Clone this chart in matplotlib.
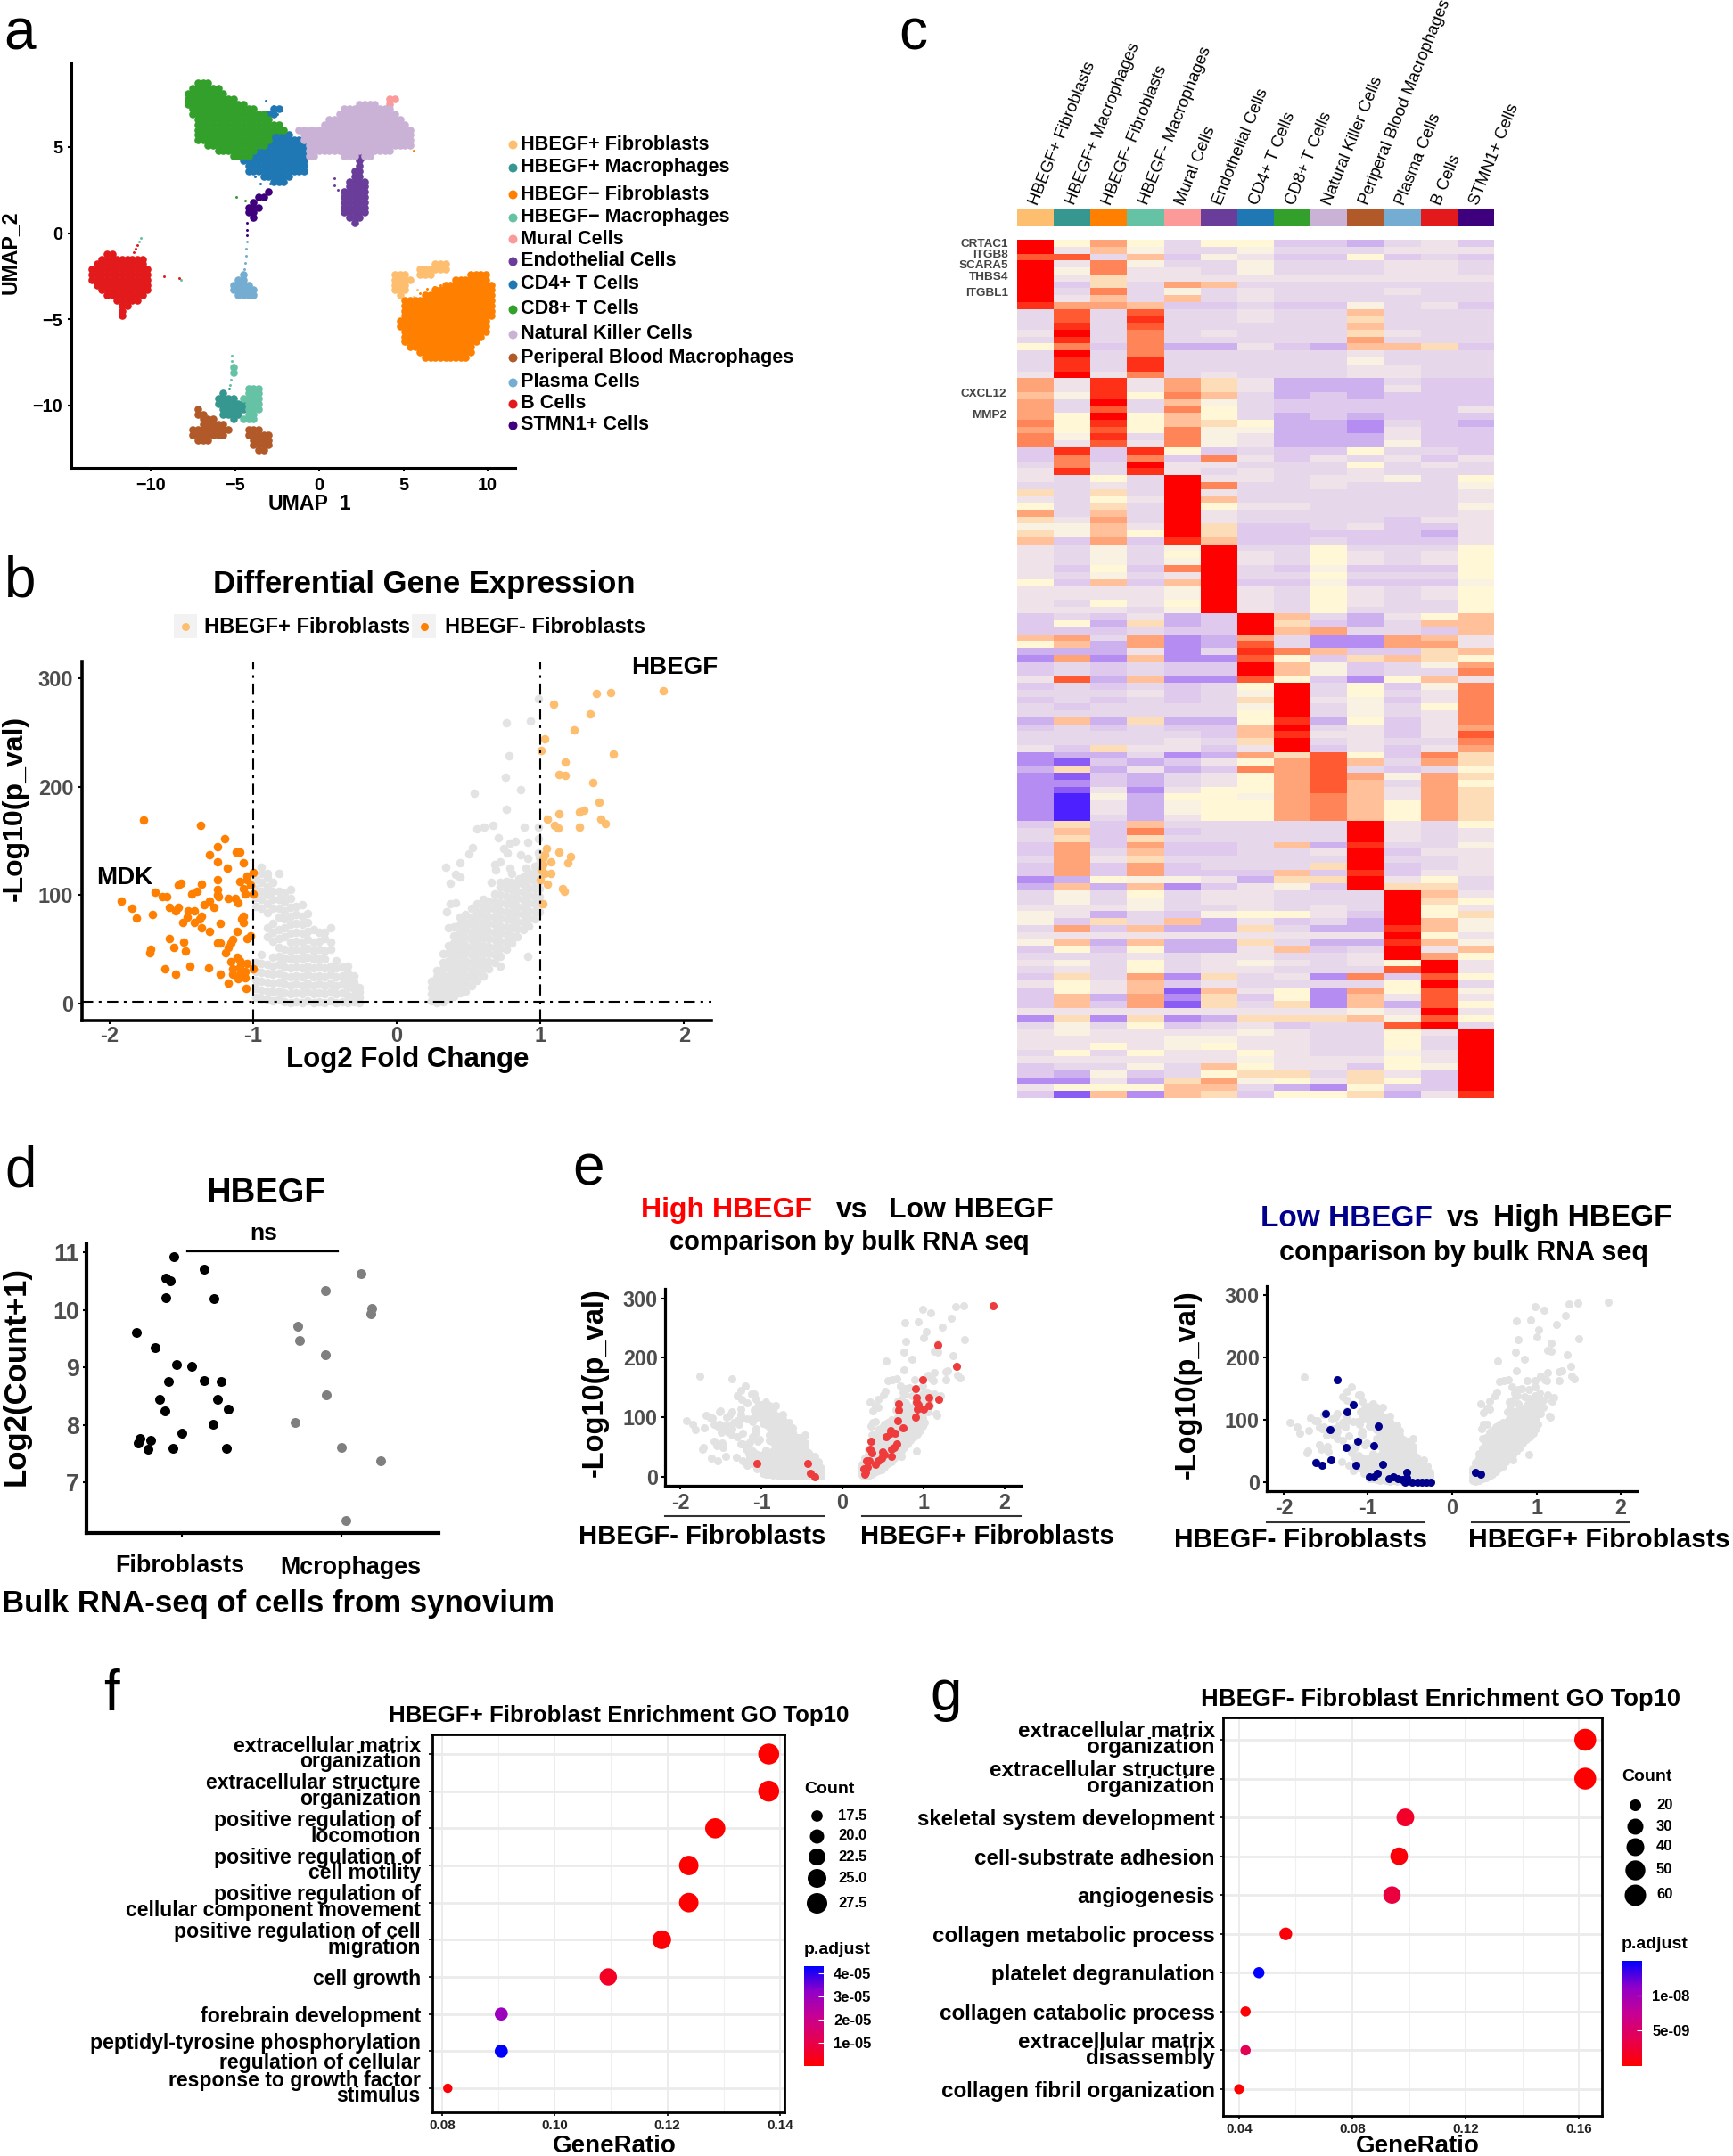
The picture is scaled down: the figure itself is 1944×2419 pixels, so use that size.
import numpy as np
import matplotlib
matplotlib.use("Agg")
import matplotlib.pyplot as plt
from matplotlib.colors import ListedColormap, LinearSegmentedColormap, Normalize
from matplotlib.cm import ScalarMappable

W, H = 1944, 2419
plt.rcParams['font.family'] = ['Liberation Sans', 'DejaVu Sans']
plt.rcParams['font.weight'] = 'bold'

# ---------- shared cluster info ----------
cell_names = ["HBEGF+ Fibroblasts", "HBEGF+ Macrophages", "HBEGF\u2212 Fibroblasts", "HBEGF\u2212 Macrophages",
              "Mural Cells", "Endothelial Cells", "CD4+ T Cells", "CD8+ T Cells", "Natural Killer Cells",
              "Periperal Blood Macrophages", "Plasma Cells", "B Cells", "STMN1+ Cells"]
heat_names = ["HBEGF+ Fibroblasts", "HBEGF+ Macrophages", "HBEGF- Fibroblasts", "HBEGF- Macrophages",
              "Mural Cells", "Endothelial Cells", "CD4+ T Cells", "CD8+ T Cells", "Natural Killer Cells",
              "Periperal Blood Macrophages", "Plasma Cells", "B Cells", "STMN1+ Cells"]
cell_colors = ["#fdbf6f", "#35978f", "#ff7f00", "#66c2a5", "#fb9a99", "#6a3d9a", "#1f78b4", "#33a02c",
               "#cab2d6", "#b15928", "#74add1", "#e31a1c", "#3f007d"]
cell_chars = "HMFmuE48NPLBS"

# ---------- panel a: UMAP read as a coarse map (0.3 units per char) ----------
umap_rows = [
    "......................888",
    ".....................888888",
    "....................88888888",
    "....................8888888888..............................uu",
    "....................888888888888......................NNNN..u",
    ".....................8888888888888...44............NNNNNNNNNN",
    ".....................88888888888888844............NNNNNNNNNNNN",
    "......................888888888888888...........NNNNNNNNNNNNNNN",
    "......................88888888888888888........NNNNNNNNNNNNNNNNN",
    "......................888888888888888888..NNNNNNNNNNNNNNNNNNNNNNN",
    "......................8888888888888884444..NNNNNNNNNNNNNNNNNNNNNN",
    "......................888888888888888444444NNNNNNNNNNNNNNNNNNNNNN",
    "........................88888888888844444444NNNNNNNNNNNNNNNNNNNNN",
    "..........................888888884444444444NNNNNNNNNNNNNNNNN",
    ".............................888844444444444NN.....NNNENN",
    "...............................4444444444444..........E",
    "................................444444444444..........E",
    "................................444444444444.........EE",
    "...................................444444............EE",
    ".....................................444............EEEE",
    "....................................................EEEE",
    "....................................S..............EEEEE",
    "..................................SS...............EEEEE",
    ".................................S.................EEEEE",
    "................................SSS................EEEEE",
    "................................SS.................EEEEE",
    ".................................S..................EEE",
    ".....................................................E",
    "", "", "", "", "",
    "....BB",
    "...BBBBBBBBB",
    "..BBBBBBBBBB.........................................................HHH",
    ".BBBBBBBBBBBB.....................................................HHHHHH",
    ".BBBBBBBBBBBB..................L.............................HHH..HHH.......FFFF",
    ".BBBBBBBBBBBB.................LL.............................HHHH........FFFFFFF",
    "..BBBBBBBBBBB................LLLL............................HHH.......FFFFFFFFFF",
    "...BBBBBBBBBB................LLLLL...........................HHH.....FFFFFFFFFFFF",
    "....BBBBBBBB..................LLLL............................H....FFFFFFFFFFFFFF",
    "......BBBBB....................................................FFFFFFFFFFFFFFFFFF",
    ".......BB......................................................FFFFFFFFFFFFFFFFFF",
    ".......B.......................................................FFFFFFFFFFFFFFFFFF",
    ".......B.......................................................FFFFFFFFFFFFFFFFFF",
    "..............................................................FFFFFFFFFFFFFFFFFF",
    "..............................................................FFFFFFFFFFFFFFFFFF",
    "...............................................................FFFFFFFFFFFFFFFFF",
    "...............................................................FFFFFFFFFFFFFFFF",
    "...............................................................FFFFFFFFFFFFFFF",
    "................................................................FFFFFFFFFFFFF",
    "..................................................................FFFFFFFFFFF",
    "...................................................................FFFFFFFFF",
    "",
    ".............................m",
    ".............................m",
    "", "",
    "................................mmm",
    "...........................M....mmm",
    "..........................MMMM.mmmm",
    "..........................MMMMMMmmm",
    "......................P....MMMMMmmm",
    "......................PP...MMMM.mm",
    ".......................PPP...M.mmm",
    ".......................PPPPP",
    ".....................PPPPPPPP...PPP",
    ".....................PPPPPPP....PPPPP",
    "......................PPP........PPPP",
    ".................................PPPP",
    "..................................PP",
]
umap_sparse = [(-4.3, 0.6, 'S'), (-4.3, 0.2, 'S'), (-4.3, -0.1, 'S'), (-4.3, -0.5, 'L'), (-4.35, -0.9, 'L'),
               (-4.35, -1.3, 'L'), (-4.4, -1.7, 'L'), (-4.45, -2.1, 'L'), (-10.6, -0.3, 'm'), (-10.7, -0.5, 'm'),
               (-10.8, -0.7, 'B'), (-10.9, -0.9, 'B'), (-11.0, -1.1, 'B'), (-8.3, -2.6, 'B'), (-8.2, -2.7, 'm'),
               (-9.2, -2.5, 'B'), (-4.9, 2.1, '8'), (-4.4, 1.9, '8'), (-2.9, 7.0, '4'), (-2.7, 7.4, '4'),
               (-2.4, 7.3, '4'), (-2.2, 7.1, '4'), (-3.2, 7.7, '4'), (-2.5, 6.9, '4'), (-3.0, 6.6, '4'),
               (-2.6, 7.2, '4'), (-2.9, 2.9, '4'), (-3.5, 2.9, '4'), (-3.8, 3.3, '4'), (0.9, 3.2, 'E'),
               (0.9, 2.8, 'E'), (1.1, 2.5, 'E'), (2.6, 4.3, 'E'), (3.1, 4.6, 'E'), (6.0, -3.5, 'F'),
               (6.4, -3.2, 'F'), (6.8, -3.1, 'F'), (7.2, -3.0, 'F'), (5.8, -3.3, 'H'), (5.6, -3.7, 'H'),
               (6.2, -3.7, 'F'), (5.5, -3.9, 'H'), (5.6, 4.8, 'F'), (-5.2, -7.1, 'm'), (-5.2, -7.4, 'm'),
               (-5.25, -8.5, 'm'), (-5.3, -8.8, 'm'), (-5.35, -9.0, 'M')]

# ---------- panel b / e: volcano points ----------
pos_pts = [(1.855, 288), (1.49, 287), (1.39, 286), (1.09, 276), (1.345, 267), (1.235, 252), (1.03, 244), (1.005, 233),
           (1.505, 230), (1.17, 223), (1.13, 211), (1.175, 210), (1.365, 204), (1.41, 186), (1.27, 177), (1.30, 178),
           (1.13, 175), (1.05, 170), (1.42, 170), (1.45, 166), (1.10, 164), (1.12, 162), (1.27, 163), (1.04, 143),
           (1.13, 140), (1.03, 137), (1.21, 136), (1.015, 134), (1.075, 131), (1.19, 130), (1.015, 128), (1.005, 123),
           (1.075, 120), (1.03, 120), (1.0, 114), (1.05, 110), (1.155, 106), (1.165, 104), (1.015, 92)]
neg_pts = [(-1.76, 169), (-1.365, 164), (-1.20, 152), (-1.25, 145), (-1.30, 137), (-1.115, 140), (-1.09, 140),
           (-1.245, 131), (-1.07, 130), (-1.18, 125), (-1.0, 121), (-1.04, 118), (-1.25, 114), (-1.09, 113),
           (-1.04, 114), (-1.02, 109), (-1.50, 111), (-1.52, 109), (-1.36, 110), (-1.07, 106), (-1.25, 105),
           (-1.39, 104), (-1.43, 101), (-1.68, 103), (-1.63, 99), (-1.60, 99), (-1.25, 100), (-1.24, 99), (-1.0, 101),
           (-1.055, 101), (-1.17, 97), (-1.105, 93), (-1.12, 97), (-1.30, 95), (-1.34, 91), (-1.27, 89), (-1.92, 95),
           (-1.84, 88), (-1.81, 79), (-1.70, 82), (-1.58, 89), (-1.54, 86), (-1.52, 89), (-1.45, 86), (-1.41, 86),
           (-1.36, 81), (-1.46, 80), (-1.49, 75), (-1.41, 75), (-1.37, 78), (-1.36, 70), (-1.30, 67), (-1.23, 74),
           (-1.07, 81), (-1.08, 78), (-1.065, 75), (-1.11, 67), (-1.02, 63), (-1.04, 60), (-1.58, 60), (-1.48, 57),
           (-1.55, 52), (-1.47, 49), (-1.71, 50), (-1.72, 47), (-1.25, 56), (-1.23, 56), (-1.14, 59), (-1.155, 56),
           (-1.17, 52), (-1.19, 47), (-1.11, 43), (-1.155, 39), (-1.09, 40), (-1.04, 37), (-1.0, 32), (-1.09, 34),
           (-1.14, 32), (-1.055, 30), (-1.44, 35), (-1.615, 32), (-1.54, 27), (-1.31, 33), (-1.23, 27), (-1.14, 27),
           (-1.105, 23), (-1.055, 24), (-1.17, 19), (-1.05, 14), (-1.09, 27)]
gray_top = [(0.985, 281), (0.765, 259), (0.93, 260), (0.78, 228), (0.755, 209), (0.86, 197), (0.54, 194), (0.76, 179),
            (0.985, 163), (0.89, 163), (0.56, 161), (0.61, 163), (0.67, 164), (0.985, 152), (0.71, 153), (0.785, 148),
            (0.825, 150), (0.91, 149), (0.53, 144), (0.505, 138), (0.745, 143), (0.77, 139), (0.86, 137), (0.91, 134),
            (0.985, 139), (0.44, 130), (0.34, 126), (0.68, 128), (0.72, 131), (0.785, 125), (0.90, 125), (0.985, 128),
            (0.41, 119), (0.375, 111), (0.44, 117), (0.69, 123), (0.80, 120), (0.85, 115), (0.93, 117), (0.655, 112),
            (0.72, 112), (0.785, 112), (0.91, 44), (0.72, 35), (0.35, 85), (0.375, 92), (0.41, 93)]
gray_right_cols = {
    0.24: [3, 9, 15, 21],
    0.28: [1, 7, 13, 19, 25, 31],
    0.32: [2, 8, 14, 20, 26, 32, 38, 46],
    0.36: [5, 12, 19, 26, 33, 40, 47, 54, 70],
    0.40: [7, 14, 21, 28, 35, 42, 49, 56, 63, 71],
    0.44: [10, 17, 24, 31, 38, 45, 52, 59, 66, 73, 80],
    0.48: [12, 19, 26, 33, 40, 47, 54, 61, 68, 75, 82],
    0.52: [17, 24, 31, 38, 45, 52, 59, 66, 73, 80, 88],
    0.56: [22, 29, 36, 43, 50, 57, 64, 71, 78, 85, 92],
    0.60: [26, 33, 40, 47, 54, 61, 68, 75, 82, 89, 96],
    0.64: [32, 39, 46, 53, 60, 67, 74, 81, 88, 95],
    0.68: [38, 45, 52, 59, 66, 73, 80, 87, 94, 101],
    0.72: [44, 51, 58, 65, 72, 79, 86, 93, 100, 108],
    0.76: [50, 57, 64, 71, 78, 85, 92, 99, 106, 113],
    0.80: [56, 63, 70, 77, 84, 91, 98, 105, 112],
    0.84: [62, 69, 76, 83, 90, 97, 104, 111],
    0.88: [68, 75, 82, 89, 96, 103, 110, 117],
    0.92: [72, 79, 86, 93, 100, 107, 114, 121],
    0.96: [78, 85, 92, 99, 106, 113, 120, 127],
    0.99: [85, 92, 99, 106, 113, 120, 127, 135],
}
gray_left_cols = {
    -0.98: [6, 14, 22, 30, 38, 90, 98, 106, 114],
    -0.94: [5, 13, 21, 29, 37, 45, 88, 96, 104, 112, 120, 126],
    -0.90: [4, 12, 20, 28, 36, 62, 70, 84, 92, 100, 108, 116, 120],
    -0.86: [3, 11, 19, 27, 35, 43, 58, 66, 74, 88, 96, 104, 112],
    -0.82: [4, 12, 20, 28, 36, 44, 52, 60, 68, 80, 88, 96, 104, 120],
    -0.78: [2, 10, 18, 26, 34, 42, 50, 62, 70, 78, 86, 94, 102],
    -0.74: [1, 9, 17, 25, 33, 41, 49, 57, 65, 73, 81, 89, 97, 105],
    -0.70: [2, 10, 18, 26, 34, 42, 50, 58, 66, 74, 82, 90],
    -0.66: [1, 9, 17, 25, 33, 41, 49, 57, 65, 73, 81, 91],
    -0.62: [3, 11, 19, 27, 35, 43, 51, 59, 67, 75, 83],
    -0.58: [1, 9, 17, 25, 33, 41, 49, 57, 68],
    -0.54: [2, 10, 18, 26, 34, 42, 50, 58, 66],
    -0.50: [1, 9, 17, 25, 33, 41, 49, 60, 66],
    -0.46: [3, 11, 19, 27, 35, 50, 57, 70],
    -0.42: [1, 9, 17, 25, 33, 40],
    -0.38: [2, 10, 18, 26, 34],
    -0.34: [1, 8, 15, 22, 29, 35],
    -0.30: [2, 8, 14, 20, 26],
    -0.26: [1, 6, 11, 15],
}
high_pts = [(1.86, 288), (1.17, 222), (1.41, 186), (0.985, 163), (0.905, 149), (0.91, 134), (1.065, 133), (1.185, 130),
            (0.695, 123), (0.91, 126), (0.935, 121), (1.07, 120), (0.925, 114), (1.0, 114), (0.69, 112), (0.905, 100),
            (0.68, 94), (0.745, 82), (0.59, 78), (0.65, 73), (0.595, 73), (0.54, 67), (0.35, 60), (0.675, 55),
            (0.64, 49), (0.6, 46), (0.34, 46), (0.36, 41), (0.49, 42), (0.515, 38), (0.6, 35), (0.485, 31), (0.44, 27),
            (0.295, 27), (0.33, 27), (0.405, 21), (0.26, 13), (0.305, 16), (0.285, 8), (0.27, 5), (-1.05, 23),
            (-0.43, 23), (-0.39, 6), (-0.345, 0)]
low_pts = [(-1.366, 164), (-1.176, 124), (-1.5, 110), (-1.25, 113), (-0.877, 90), (-1.445, 84), (-1.12, 66), (-0.93, 59),
           (-1.255, 55), (-1.617, 31), (-1.546, 27), (-1.44, 35), (-1.145, 27), (-0.83, 28), (-0.987, 8), (-0.934, 8),
           (-0.89, 14), (-0.75, 5), (-0.70, 9), (-0.648, 6), (-0.59, 4), (-0.537, 15), (-0.56, 0), (-0.537, 7),
           (-0.48, 0), (-0.414, 0), (-0.36, 0), (-0.31, 0), (-0.25, 0), (0.273, 15), (0.335, 12)]

# ---------- panel c: heatmap, one hex level per cell ----------
heat_rows = [
    "f8b8588443564", "f6a7557555666", "dd5a476448454", "f6c7557555665", "f7c6657555665", "f696666666666",
    "f495ba5555555", "f5c5756555655", "f6a5a56555555", "ebba445447564", "5d5d55655a555", "5d5e556559555",
    "5e5d55555a555", "6f5c565559655", "5e5c55555b555", "8c4c33643aa94", "5f5c555556555", "5e5e555557555",
    "5e5e555556655", "6f6c565556655", "b6e6b96333544", "b6e6b96333644", "a7e8ca5343444", "b5f5a75444444",
    "b5d5c85444446", "b8f8a85343444", "c8e8a98332543", "b8d8c77332644", "c7e5c76333644", "c6d6c76333744",
    "4e4e845448554", "4c4c4c6465646", "5c5f665558565", "6e5e656556555", "6585f66566758", "5565fc5565557",
    "9595f65555556", "6586fa5555556", "8595f86655557", "b5a5f65555556", "96b5f65555466", "77a6f94456446",
    "97a8f94444436", "a4b4ea4454446", "65757f5585558", "65758f6586568", "65757f6586568", "6484cf5474448",
    "65756f5585558", "84a4af4474447", "66667f6586568", "66667f6586568", "65868f6586558", "66657f6585558",
    "454634fa5368a", "483934f9435aa", "444544fab554a", "ab5b23b522ba6", "8a3b23d522bb6", "333625eca449a",
    "2b2a22d849a98", "454544fa7457b", "454544fa7455c", "6d3a22d8428a6", "4545458f5847c", "5556457f5856c",
    "4545459f6746c", "5455557f5758c", "5555558f5756c", "3a39338e3846c", "454544af5646b", "555554ae6646d",
    "5555659f5655c", "6496646f4646b", "233523b9d84c9", "2143468bda5b9", "393634cbd5458", "2143568bdb7b9",
    "2243568bda5b8", "2162688bda6b9", "2073887bca6b9", "2063788bca8b9", "2063788bca8b9", "2053688bca8b9",
    "494a55555f658", "5a4c45555f656", "594955555f656", "4b4b445a3e557", "4b5a44556f466", "5b6955555f556",
    "4b4b45559f456", "4b4b444a4e466", "238776399f685", "3a3a24674f995", "5758566555fa6", "5757566555f98",
    "6667556565f86", "7635478864f89", "7495a36453fa7", "5b4a339533ea7", "6666666666f86", "7a3a339533ea7",
    "4848336a45f6a", "5556566556fb8", "67585676568f6", "5658566555df6", "495b29562c4d8", "686a4655558f5",
    "486a1a682b8d7", "4a3b29482a6d6", "4a4b19592a3d8", "66666666676f6", "292923999a7d8", "5758456455df5",
    "676666765586f", "666677665585f", "668678665585f", "585866865576f", "666666766686f", "45575a866487f",
    "437458995964f", "22639b786984f", "6888aa532844f", "41a2a9488936e",
]
heat_levels = ["#4c20ff", "#8a5cf5", "#b48cf2", "#cdb0ee", "#dfc9ec", "#e7d7ea", "#efe2e8", "#f9f2e2",
               "#fff7d6", "#fddcb8", "#ffc09a", "#ffa478", "#ff8558", "#ff5a32", "#ff3018", "#ff0000"]
heat_genes = ["CRTAC1", "ITGB8", "SCARA5", "THBS4", "ITGBL1", "CXCL12", "MMP2"]
heat_gene_y = [274, 286, 298, 311, 329, 442, 466]

# ---------- panel d ----------
fib_x = [0.948, 1.139, 0.897, 0.925, 0.902, 1.2, 0.715, 0.834, 0.968, 1.059, 0.918, 1.139, 1.246, 0.859, 1.223, 0.893,
         1.289, 1.194, 1.002, 0.74, 0.804, 0.724, 0.788, 0.945, 1.28]
fib_y = [10.92, 10.71, 10.55, 10.50, 10.21, 10.20, 9.60, 9.35, 9.05, 9.02, 8.75, 8.77, 8.75, 8.45, 8.44, 8.25,
         8.27, 8.02, 7.85, 7.77, 7.74, 7.68, 7.58, 7.60, 7.60]
mac_x = [2.118, 1.9, 2.185, 2.182, 1.727, 1.736, 1.895, 1.902, 1.708, 2.0, 2.244, 2.027]
mac_y = [10.63, 10.34, 10.03, 9.93, 9.72, 9.47, 9.22, 8.52, 8.05, 7.61, 7.38, 6.34]

# ---------- panels f, g ----------
go_f_terms = ["extracellular matrix\norganization", "extracellular structure\norganization",
              "positive regulation of\nlocomotion", "positive regulation of\ncell motility",
              "positive regulation of\ncellular component movement", "positive regulation of cell\nmigration",
              "cell growth", "forebrain development", "peptidyl-tyrosine phosphorylation\nregulation of cellular",
              "response to growth factor\nstimulus"]
go_f_ratio = [0.138, 0.138, 0.1285, 0.1238, 0.1238, 0.119, 0.1095, 0.0905, 0.0905, 0.081]
go_f_count = [29, 29, 27, 26, 26, 25, 23, 19, 19, 17]
go_f_padj = [1e-7, 1e-7, 1e-7, 1e-7, 1e-7, 1e-6, 5e-6, 3.0e-5, 4.3e-5, 1e-6]
go_f_breaks = [17, 17.5, 20, 22.5, 25, 27.5, 29]
go_f_diam = [10.4, 12.7, 16, 19, 21, 23, 23.5]
go_f_legend = [17.5, 20.0, 22.5, 25.0, 27.5]
go_f_cbar = [1e-5, 2e-5, 3e-5, 4e-5]
go_f_cbar_labels = ["1e-05", "2e-05", "3e-05", "4e-05"]

go_g_terms = ["extracellular matrix\norganization", "extracellular structure\norganization",
              "skeletal system development", "cell-substrate adhesion", "angiogenesis", "collagen metabolic process",
              "platelet degranulation", "collagen catabolic process", "extracellular matrix\ndisassembly",
              "collagen fibril organization"]
go_g_ratio = [0.1622, 0.1622, 0.0987, 0.0965, 0.094, 0.0565, 0.047, 0.0423, 0.0423, 0.04]
go_g_count = [65, 65, 39.5, 38.6, 37.6, 22.6, 19, 17, 17, 16]
go_g_padj = [1e-11, 1e-11, 2e-9, 5e-10, 3e-9, 5e-10, 1.48e-8, 3e-10, 4e-9, 1e-10]
go_g_breaks = [16, 20, 30, 40, 50, 60, 65]
go_g_diam = [11, 13, 18, 20, 22.4, 24, 24.5]
go_g_legend = [20, 30, 40, 50, 60]
go_g_cbar = [5e-9, 1e-8]
go_g_cbar_labels = ["5e-09", "1e-08"]

fig = plt.figure(figsize=(W / 100, H / 100), dpi=100)


def ax_px(l, t, r, b):
    return fig.add_axes([l / W, 1 - b / H, (r - l) / W, (b - t) / H])


def px2s(d):
    return (d * 0.72) ** 2


def ax_style(ax, lw=2.3, labelsize=17, labelcolor="#4d4d4d", pad=4):
    ax.spines['top'].set_visible(False)
    ax.spines['right'].set_visible(False)
    ax.spines['left'].set_linewidth(lw)
    ax.spines['bottom'].set_linewidth(lw)
    ax.tick_params(length=3, width=1.5, labelsize=labelsize, labelcolor=labelcolor, pad=pad)


# overlay with pixel coordinates for free text
ov = fig.add_axes([0, 0, 1, 1], zorder=10)
ov.set_xlim(0, W)
ov.set_ylim(H, 0)
ov.axis('off')


def txt(x, y, s, size, ha='center', va='center', **kw):
    ov.text(x, y, s, fontsize=size, ha=ha, va=va, **kw)


# panel letters
for lx, ly, s in [(4, 56, 'a'), (5, 669, 'b'), (1008, 55, 'c'), (5, 1332, 'd'), (642, 1330, 'e'), (116, 1919, 'f'),
                  (1043, 1919, 'g')]:
    txt(lx, ly, s, 46, ha='left', va='baseline', fontweight='normal')

# ---------- a ----------
ax = ax_px(80, 71, 578, 525)
ax.set_xlim(-10 - 89 / 18.9, 10 + 31 / 18.9)
ax.set_ylim(5 - (525 - 165) / 19.33, 5 + (165 - 71) / 19.33)
for c, col in zip(cell_chars, cell_colors):
    xs, ys = [], []
    for i, row in enumerate(umap_rows):
        for j, ch in enumerate(row):
            if ch == c:
                xs.append(-13.8 + 0.3 * j)
                ys.append(8.7 - 0.3 * i)
    ax.scatter(xs, ys, s=px2s(8.6), color=col, linewidths=0)
    sp = [p for p in umap_sparse if p[2] == c]
    if sp:
        ax.scatter([p[0] for p in sp], [p[1] for p in sp], s=px2s(3), color=col, linewidths=0)
ax_style(ax, lw=2.2, labelsize=14.3, labelcolor='black', pad=4)
ax.set_xticks([-10, -5, 0, 5, 10])
ax.set_yticks([-10, -5, 0, 5])
txt(347, 565, "UMAP_1", 16.7)
txt(11, 283, "UMAP_2", 16.7, rotation=90)
legend_y = [162, 188, 218, 244, 268, 293, 319, 347, 375, 401, 429, 453, 477]
for name, col, ly in zip(cell_names, cell_colors, legend_y):
    ov.scatter([574.5], [ly], s=px2s(10), color=col, linewidths=0)
    txt(584, ly, name, 15.6, ha='left')

# ---------- b ----------
neg_x, neg_y = zip(*neg_pts)
pos_x, pos_y = zip(*pos_pts)
gray_x = [p[0] for p in gray_top]
gray_y = [p[1] for p in gray_top]
for cols in (gray_right_cols, gray_left_cols):
    for gx, gy in cols.items():
        gray_x += [gx] * len(gy)
        gray_y += gy
all_x = gray_x + list(neg_x) + list(pos_x)
all_y = gray_y + list(neg_y) + list(pos_y)
fc_ticks = [-2, -1, 0, 1, 2]
fc_labels = ["-2", "-1", "0", "1", "2"]

ax = ax_px(92, 743, 798, 1145)
ax.set_xlim(-2.19, 2.19)
ax.set_ylim(-15.3, 314.5)
ax.scatter(gray_x, gray_y, s=px2s(9.6), color="#e3e3e3", linewidths=0, zorder=2)
ax.scatter(neg_x, neg_y, s=px2s(9.6), color="#ff7f00", linewidths=0, zorder=3)
ax.scatter(pos_x, pos_y, s=px2s(9.6), color="#fdbf6f", linewidths=0, zorder=3)
dash = (0, (6, 3, 1.5, 3))
for v in (-1, 1):
    ax.axvline(v, color='black', lw=1.5, ls=dash, zorder=4)
ax.axhline(2, color='black', lw=1.5, ls=dash, zorder=4)
ax_style(ax, lw=2.6)
ax.tick_params(axis='x', pad=1)
ax.set_xticks(fc_ticks, fc_labels)
ax.set_yticks([0, 100, 200, 300])
txt(476, 655, "Differential Gene Expression", 24.9)
for bx0, bx1, col, name, tx in [(195, 221, "#fdbf6f", "HBEGF+ Fibroblasts", 229), (462, 489, "#ff7f00", "HBEGF- Fibroblasts", 499)]:
    ov.fill_between([bx0, bx1], 689, 716, color="#f2f2f2", linewidth=0)
    ov.scatter([(bx0 + bx1) / 2], [703], s=px2s(9), color=col, linewidths=0, zorder=3)
    txt(tx, 703, name, 17, ha='left')
txt(457, 1189, "Log2 Fold Change", 22.5)
txt(17, 907, "-Log10(p_val)", 23, rotation=90)
txt(708, 749, "HBEGF", 20, ha='left')
txt(108, 985, "MDK", 20, ha='left')

# ---------- c ----------
heat = np.array([[int(ch, 16) for ch in row] for row in heat_rows])
ax = ax_px(1141, 269, 1676, 1232)
ax.imshow(heat, cmap=ListedColormap(heat_levels), vmin=-0.5, vmax=15.5, aspect='auto', interpolation='nearest')
ax.axis('off')
ax = ax_px(1141, 234, 1676, 254)
ax.imshow(np.arange(13).reshape(1, -1), cmap=ListedColormap(cell_colors), aspect='auto', interpolation='nearest')
ax.axis('off')
col_w = (1676 - 1141) / 13
for i, name in enumerate(heat_names):
    ov.text(1141 + col_w * (i + 0.5) - 2, 229, name, fontsize=13.5, fontweight='normal', rotation=68,
            rotation_mode='anchor', ha='left', va='center')
for g, gy in zip(heat_genes, heat_gene_y):
    gx = 1131 if g not in ("CXCL12", "MMP2") else 1129
    txt(gx, gy, g, 9.7, ha='right', color="#444444")

# ---------- d ----------
ax = ax_px(97, 1396, 492, 1720)
ax.set_xlim(0.403, 2.606)
ax.set_ylim(11 - (1720 - 1405) / 64.6, 11 + 9 / 64.6)
ax.scatter(fib_x, fib_y, s=px2s(11), color='black', linewidths=0)
ax.scatter(mac_x, mac_y, s=px2s(11), color='#7f7f7f', linewidths=0)
ax_style(ax, lw=3, labelsize=19.4, pad=3)
ax.set_yticks([7, 8, 9, 10, 11])
ax.set_xticks([1, 2], ["", ""])
txt(298, 1339, "HBEGF", 27.5)
txt(296, 1384, "ns", 19)
ov.plot([210, 379], [1404, 1404], color='black', lw=1.6)
txt(202, 1757, "Fibroblasts", 19.4)
txt(393, 1759, "Mcrophages", 19.4)
txt(18, 1544, "Log2(Count+1)", 25, rotation=90)
txt(2, 1800, "Bulk RNA-seq of cells from synovium", 25, ha='left')


# ---------- e ----------
def volcano(box, xlim, ylim, hi, hi_col):
    ax = ax_px(*box)
    ax.set_xlim(*xlim)
    ax.set_ylim(*ylim)
    ax.scatter(all_x, all_y, s=px2s(9), color="#e2e2e2", linewidths=0, zorder=2)
    ax.scatter([p[0] for p in hi], [p[1] for p in hi], s=px2s(9), color=hi_col, linewidths=0, zorder=3)
    ax_style(ax, lw=2.3, labelsize=16.8, pad=3)
    ax.set_xticks(fc_ticks, fc_labels)
    ax.set_yticks([0, 100, 200, 300])


volcano((746, 1446, 1145, 1667), (-2.186, 2.197), (-15, 316), high_pts, "#ee3b3b")
txt(719, 1358, "High HBEGF", 23, ha='left', color='#ff0000')
txt(938, 1358, "vs", 23, ha='left')
txt(997, 1358, "Low HBEGF", 23, ha='left')
txt(953, 1394, "comparison by bulk RNA seq", 21)
txt(667, 1551, "-Log10(p_val)", 23.5, rotation=90)
ov.plot([746, 924], [1701, 1701], color='#333333', lw=1.5)
ov.plot([967, 1145], [1701, 1701], color='#333333', lw=1.5)
txt(788, 1724, "HBEGF- Fibroblasts", 21)
txt(1107, 1724, "HBEGF+ Fibroblasts", 21)

volcano((1421, 1443, 1836, 1673), (-2.2, 2.19), (-14.5, 314), low_pts, "#00008b")
txt(1414, 1367, "Low HBEGF", 24, ha='left', color='#00008b')
txt(1623, 1367, "vs", 24, ha='left')
txt(1675, 1367, "High HBEGF", 24, ha='left')
txt(1642, 1406, "conparison by bulk RNA seq", 22)
txt(1332, 1553, "-Log10(p_val)", 23.5, rotation=90)
ov.plot([1421, 1598], [1708, 1708], color='#333333', lw=1.5)
ov.plot([1651, 1827], [1708, 1708], color='#333333', lw=1.5)
txt(1459, 1728, "HBEGF- Fibroblasts", 21.5)
txt(1794, 1728, "HBEGF+ Fibroblasts", 21.7)

# ---------- f, g ----------
padj_cmap = LinearSegmentedColormap.from_list("padj", ["#ff0000", "#e6004f", "#c60094", "#9000c8", "#0000ff"])


def go_panel(box, xlim, ylim, xticks, xminor, ratio, count, padj, terms, breaks, diam, label_size, pad, vmax,
             cbar_box, cbar_ticks, cbar_labels, cbar_pad, loose=None):
    ax = ax_px(*box)
    ax.set_xlim(*xlim)
    ax.set_ylim(*ylim)
    ax.set_axisbelow(True)
    norm = Normalize(0, vmax)
    rows = list(range(len(terms)))
    ax.scatter(ratio, rows, s=px2s(np.interp(count, breaks, diam)), c=padj, cmap=padj_cmap, norm=norm,
               linewidths=0, zorder=3)
    ax.set_xticks(xticks)
    ax.set_xticks(xminor, minor=True)
    ax.set_xticklabels([f"{v:.2f}" for v in xticks])
    ax.set_yticks(rows)
    ax.set_yticklabels(terms, linespacing=0.72, multialignment='right')
    if loose is not None:
        ax.get_yticklabels()[loose].set_linespacing(0.95)
    ax.grid(True, which='major', axis='y', color='#ebebeb', lw=2)
    ax.grid(True, which='major', axis='x', color='#ebebeb', lw=1.3)
    ax.grid(True, which='minor', axis='x', color='#f0f0f0', lw=0.8)
    ax.tick_params(which='minor', length=0)
    ax.tick_params(axis='x', which='major', labelsize=11, length=3, width=1.2, pad=3, labelcolor='#222222')
    ax.tick_params(axis='y', labelsize=label_size, length=3, width=1.2, pad=pad)
    for s in ax.spines.values():
        s.set_linewidth(2)
    cax = ax_px(*cbar_box)
    cb = fig.colorbar(ScalarMappable(norm, padj_cmap), cax=cax)
    cb.outline.set_visible(False)
    cb.set_ticks(cbar_ticks, labels=cbar_labels)
    cax.tick_params(length=4, width=0.8, color='white', direction='in', labelsize=12, pad=cbar_pad)


go_panel((485, 1946, 880, 2370), (0.07826, 0.1408), (9.647, -0.528), [0.08, 0.10, 0.12, 0.14], [0.09, 0.11, 0.13],
         go_f_ratio, go_f_count, go_f_padj, go_f_terms, go_f_breaks, go_f_diam, 16.6, 6.5, 4.3e-5,
         (902, 2206, 924, 2318), go_f_cbar, go_f_cbar_labels, 8, loose=8)
txt(694, 1925, "HBEGF+ Fibroblast Enrichment GO Top10", 18.6)
txt(902, 2008, "Count", 14, ha='left')
txt(902, 2188, "p.adjust", 14, ha='left')
for v, ly in zip(go_f_legend, [2037, 2060, 2083, 2107, 2135]):
    ov.scatter([916], [ly], s=px2s(np.interp(v, go_f_breaks, go_f_diam)), color='black', linewidths=0)
    txt(940, ly, f"{v:.1f}", 12, ha='left')
txt(689, 2408, "GeneRatio", 20)

go_panel((1372, 1927, 1797, 2374), (0.03436, 0.1681), (9.69, -0.574), [0.04, 0.08, 0.12, 0.16], [0.06, 0.10, 0.14],
         go_g_ratio, go_g_count, go_g_padj, go_g_terms, go_g_breaks, go_g_diam, 17.4, 3.5, 1.49e-8,
         (1819, 2200, 1842, 2318), go_g_cbar, go_g_cbar_labels, 8)
txt(1616, 1907, "HBEGF- Fibroblast Enrichment GO Top10", 19.6)
txt(1819, 1994, "Count", 14, ha='left')
txt(1819, 2181, "p.adjust", 14, ha='left')
for v, ly in zip(go_g_legend, [2025, 2049, 2072, 2098, 2126]):
    ov.scatter([1834], [ly], s=px2s(np.interp(v, go_g_breaks, go_g_diam)), color='black', linewidths=0)
    txt(1858, ly, str(v), 12, ha='left')
txt(1590, 2408, "GeneRatio", 20)

ov.set_xlim(0, W)
ov.set_ylim(H, 0)
fig.savefig("out.png", dpi=100, facecolor='white')
